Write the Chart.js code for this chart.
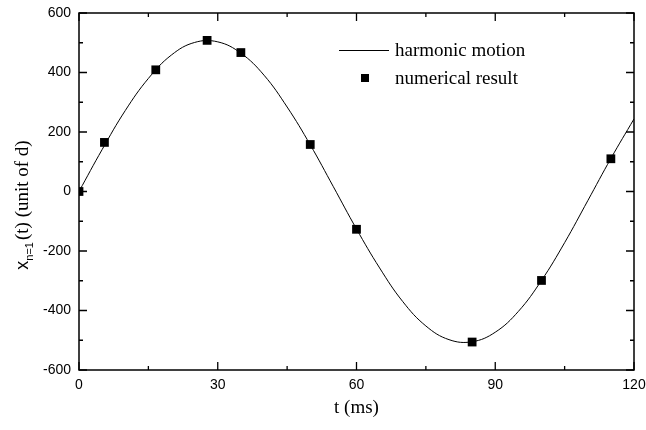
<!DOCTYPE html>
<html>
<head>
<meta charset="utf-8">
<script src="https://cdn.jsdelivr.net/npm/chart.js@4.4.1/dist/chart.umd.min.js"></script>
<style>
  html, body { margin: 0; padding: 0; background: #fff; }
  #wrap { width: 646px; height: 430px; }
</style>
</head>
<body>
<div id="wrap"><canvas id="chart" width="646" height="430"></canvas></div>
<script>
// harmonic motion curve, every 5 ms
const curveT = [0, 5, 10, 15, 20, 25, 30, 35, 40, 45, 50, 55, 60, 65, 70, 75, 80, 85, 90, 95, 100, 105, 110, 115, 120];
const curveX = [0, 141, 272, 380, 459, 501, 503, 465, 391, 284, 157, 16, -126, -257, -370, -452, -498, -505, -473, -403, -299, -172, -31, 111, 244];

// numerical result markers
const pointT = [0, 5.5, 16.6, 27.7, 35, 50, 60, 85, 100, 115];
const pointX = [0, 165, 409, 508, 467, 158, -127, -506, -299, 110];

const xTicks = [0, 30, 60, 90, 120];
const yTicks = [-600, -400, -200, 0, 200, 400, 600];

const serif = '"Liberation Serif", "Times New Roman", serif';
const sans = '"Liberation Sans", Arial, sans-serif';

function pairs(xs, ys) {
  return xs.map((x, i) => ({ x: x, y: ys[i] }));
}

// inward ticks on all four sides, frame, axis titles and legend
const framePlugin = {
  id: "frame",
  afterDraw(chart) {
    const ctx = chart.ctx;
    const a = chart.chartArea;
    const xs = chart.scales.x;
    const ys = chart.scales.y;
    ctx.save();
    ctx.strokeStyle = "#000";
    ctx.lineWidth = 1.5;
    ctx.strokeRect(a.left, a.top, a.right - a.left, a.bottom - a.top);

    ctx.lineWidth = 1.3;
    ctx.beginPath();
    for (let v = 0; v <= 120; v += 15) {
      const px = xs.getPixelForValue(v);
      const len = v % 30 === 0 ? 8 : 4;
      ctx.moveTo(px, a.bottom);
      ctx.lineTo(px, a.bottom - len);
      ctx.moveTo(px, a.top);
      ctx.lineTo(px, a.top + len);
    }
    for (let v = -600; v <= 600; v += 100) {
      const py = ys.getPixelForValue(v);
      const len = v % 200 === 0 ? 8 : 4;
      ctx.moveTo(a.left, py);
      ctx.lineTo(a.left + len, py);
      ctx.moveTo(a.right, py);
      ctx.lineTo(a.right - len, py);
    }
    ctx.stroke();

    // x title
    ctx.fillStyle = "#000";
    ctx.font = "19px " + serif;
    ctx.textAlign = "center";
    ctx.textBaseline = "alphabetic";
    ctx.fillText("t (ms)", (a.left + a.right) / 2, 413);

    // y title with subscript
    const main = "x";
    const sub = "n=1";
    const rest = "(t) (unit of d)";
    ctx.font = "18px " + sans;
    const w1 = ctx.measureText(main).width;
    ctx.font = "11px " + sans;
    const w2 = ctx.measureText(sub).width;
    ctx.font = "19px " + serif;
    const w3 = ctx.measureText(rest).width;
    const total = w1 + w2 + 2 + w3;
    ctx.translate(28, 205);
    ctx.rotate(-Math.PI / 2);
    ctx.textAlign = "left";
    let cx = -total / 2;
    ctx.font = "18px " + sans;
    ctx.fillText(main, cx, 0);
    cx += w1;
    ctx.font = "11px " + sans;
    ctx.fillText(sub, cx, 5);
    cx += w2 + 2;
    ctx.font = "19px " + serif;
    ctx.fillText(rest, cx, 0);
    ctx.restore();

    // legend
    const ds = chart.data.datasets;
    ctx.save();
    ctx.strokeStyle = "#000";
    ctx.lineWidth = 1;
    ctx.beginPath();
    ctx.moveTo(339, 50.5);
    ctx.lineTo(389, 50.5);
    ctx.stroke();
    ctx.fillStyle = "#000";
    ctx.fillRect(361, 74, 8, 8);
    ctx.font = "19px " + serif;
    ctx.textAlign = "left";
    ctx.textBaseline = "middle";
    ctx.fillText(ds[0].label, 395, 51);
    ctx.fillText(ds[1].label, 395, 79);
    ctx.restore();
  },
};

new Chart(document.getElementById("chart"), {
  type: "scatter",
  data: {
    datasets: [
      {
        label: "harmonic motion",
        data: pairs(curveT, curveX),
        showLine: true,
        borderColor: "#000",
        borderWidth: 1,
        pointRadius: 0,
        tension: 0.4,
        order: 2,
      },
      {
        label: "numerical result",
        data: pairs(pointT, pointX),
        showLine: false,
        pointStyle: "rect",
        pointRadius: 6.2,
        backgroundColor: "#000",
        borderColor: "#000",
        borderWidth: 0,
        order: 1,
      },
    ],
  },
  options: {
    responsive: false,
    animation: false,
    devicePixelRatio: 1,
    layout: { padding: { top: 13, right: 12, left: 0, bottom: 0 } },
    plugins: {
      legend: { display: false },
      tooltip: { enabled: false },
    },
    scales: {
      x: {
        type: "linear",
        min: 0,
        max: 120,
        afterFit: (s) => {
          s.height = 60;
          s.paddingLeft = 0;
          s.paddingRight = 0;
        },
        afterBuildTicks: (s) => { s.ticks = xTicks.map((v) => ({ value: v })); },
        grid: { display: false, drawTicks: false, tickLength: 0 },
        border: { display: false },
        ticks: {
          padding: 7,
          color: "#000",
          font: { family: sans, size: 14 },
          maxRotation: 0,
        },
      },
      y: {
        type: "linear",
        min: -600,
        max: 600,
        afterFit: (s) => {
          s.width = 79;
          s.paddingTop = 0;
          s.paddingBottom = 0;
        },
        afterBuildTicks: (s) => { s.ticks = yTicks.map((v) => ({ value: v })); },
        grid: { display: false, drawTicks: false, tickLength: 0 },
        border: { display: false },
        ticks: {
          padding: 8,
          color: "#000",
          font: { family: sans, size: 14 },
        },
      },
    },
  },
  plugins: [framePlugin],
});
</script>
</body>
</html>
